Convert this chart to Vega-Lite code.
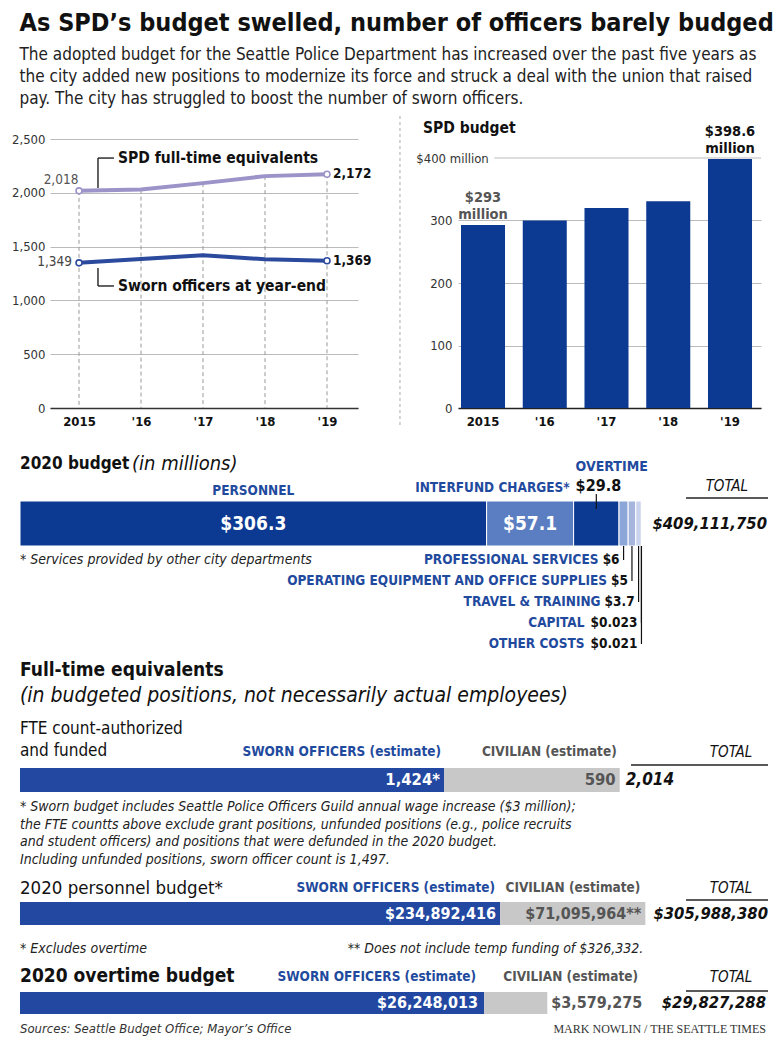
{
  "$schema": "https://vega.github.io/schema/vega-lite/v6.json",
  "background": "white",
  "padding": {"left": 11, "top": 10, "right": 0, "bottom": 0},
  "config": {
    "font": "Liberation Sans Narrow, DejaVu Sans Condensed, Roboto Condensed, Arial Narrow, sans-serif",
    "view": {"stroke": null}
  },
  "title": {
    "text": "As SPD’s budget swelled, number of officers barely budged",
    "subtitle": [
      "The adopted budget for the Seattle Police Department has increased over the past five years as",
      "the city added new positions to modernize its force and struck a deal with the union that raised",
      "pay. The city has struggled to boost the number of sworn officers."
    ],
    "anchor": "start",
    "dx": 8,
    "fontSize": 25,
    "fontWeight": "bold",
    "color": "#111",
    "subtitleFontSize": 17,
    "subtitleColor": "#222",
    "subtitleLineHeight": 22,
    "subtitlePadding": 11,
    "offset": 8
  },
  "spacing": 26,
  "resolve": {"scale": {"color": "independent", "stroke": "independent"}},
  "vconcat": [
    {
      "hconcat": [
        {
          "width": 1,
          "height": 1,
          "data": {"values": [{}]},
          "mark": {"type": "point", "opacity": 0},
          "encoding": {}
        },
        {
          "hconcat": [
            {
              "width": 308,
              "height": 269,
              "data": {"values": [
                {"year": 2015, "series": "FTE", "name": "SPD full-time equivalents", "value": 2018},
                {"year": 2016, "series": "FTE", "name": "SPD full-time equivalents", "value": 2030},
                {"year": 2017, "series": "FTE", "name": "SPD full-time equivalents", "value": 2090},
                {"year": 2018, "series": "FTE", "name": "SPD full-time equivalents", "value": 2155},
                {"year": 2019, "series": "FTE", "name": "SPD full-time equivalents", "value": 2172},
                {"year": 2015, "series": "Sworn", "name": "Sworn officers at year-end", "value": 1349},
                {"year": 2016, "series": "Sworn", "name": "Sworn officers at year-end", "value": 1385},
                {"year": 2017, "series": "Sworn", "name": "Sworn officers at year-end", "value": 1420},
                {"year": 2018, "series": "Sworn", "name": "Sworn officers at year-end", "value": 1382},
                {"year": 2019, "series": "Sworn", "name": "Sworn officers at year-end", "value": 1369}
              ]},
              "layer": [
                {
                  "transform": [{"filter": "datum.series == 'FTE'"}],
                  "mark": {"type": "rule", "strokeDash": [4, 3], "color": "#999", "strokeWidth": 1},
                  "encoding": {
                    "x": {"field": "year", "type": "quantitative"},
                    "y": {"field": "value", "type": "quantitative"},
                    "y2": {"datum": 0}
                  }
                },
                {
                  "data": {"values": [{}]},
                  "mark": {"type": "rule", "strokeDash": [3, 3], "color": "#aaa", "strokeWidth": 1},
                  "encoding": {
                    "x": {"datum": 2020.177, "type": "quantitative"},
                    "y": {"datum": -158, "type": "quantitative"},
                    "y2": {"datum": 2723}
                  }
                },
                {
                  "data": {"values": [{}]},
                  "mark": {"type": "rule", "color": "#111", "strokeWidth": 1.3},
                  "encoding": {"x": {"datum": 2015.306, "type": "quantitative"}, "y": {"datum": 2045, "type": "quantitative"}, "y2": {"datum": 2323}}
                },
                {
                  "data": {"values": [{}]},
                  "mark": {"type": "rule", "color": "#111", "strokeWidth": 1.3},
                  "encoding": {"x": {"datum": 2015.306, "type": "quantitative"}, "x2": {"datum": 2015.564}, "y": {"datum": 2323, "type": "quantitative"}}
                },
                {
                  "data": {"values": [{}]},
                  "mark": {"type": "rule", "color": "#111", "strokeWidth": 1.3},
                  "encoding": {"x": {"datum": 2015.306, "type": "quantitative"}, "y": {"datum": 1301, "type": "quantitative"}, "y2": {"datum": 1134}}
                },
                {
                  "data": {"values": [{}]},
                  "mark": {"type": "rule", "color": "#111", "strokeWidth": 1.3},
                  "encoding": {"x": {"datum": 2015.306, "type": "quantitative"}, "x2": {"datum": 2015.564}, "y": {"datum": 1134, "type": "quantitative"}}
                },
                {
                  "mark": {"type": "line", "strokeWidth": 4},
                  "encoding": {
                    "x": {
                      "field": "year", "type": "quantitative",
                      "scale": {"domain": [2014.532, 2019.5], "nice": false, "zero": false},
                      "axis": {"values": [2015, 2016, 2017, 2018, 2019], "labelExpr": "datum.value == 2015 ? '2015' : \"'\" + (datum.value - 2000)", "title": null, "grid": false, "ticks": false, "domain": true, "domainColor": "#333", "domainWidth": 1.5, "labelFontSize": 13, "labelFontWeight": "bold", "labelColor": "#111", "labelPadding": 7}
                    },
                    "y": {
                      "field": "value", "type": "quantitative",
                      "scale": {"domain": [0, 2500], "nice": false},
                      "axis": {"values": [0, 500, 1000, 1500, 2000, 2500], "labelExpr": "format(datum.value, ',')", "title": null, "grid": true, "gridColor": "#bbb", "gridWidth": 1.2, "ticks": false, "domain": false, "labelFontSize": 13, "labelColor": "#333", "labelPadding": 5}
                    },
                    "color": {"field": "series", "type": "nominal", "scale": {"domain": ["FTE", "Sworn"], "range": ["#9c93c8", "#2c4a9d"]}, "legend": null}
                  }
                },
                {
                  "transform": [{"filter": "datum.year == 2015 || datum.year == 2019"}],
                  "mark": {"type": "point", "filled": true, "fill": "white", "size": 36, "strokeWidth": 1.6, "opacity": 1},
                  "encoding": {
                    "x": {"field": "year", "type": "quantitative"},
                    "y": {"field": "value", "type": "quantitative"},
                    "stroke": {"field": "series", "type": "nominal", "scale": {"domain": ["FTE", "Sworn"], "range": ["#9c93c8", "#2c4a9d"]}, "legend": null}
                  }
                },
                {
                  "transform": [{"filter": "datum.year == 2015 && datum.series == 'FTE'"}],
                  "mark": {"type": "text", "align": "left", "baseline": "middle", "dx": 39, "dy": -33, "fontSize": 15.5, "fontWeight": "bold", "color": "#111"},
                  "encoding": {"x": {"field": "year", "type": "quantitative"}, "y": {"field": "value", "type": "quantitative"}, "text": {"field": "name"}}
                },
                {
                  "transform": [{"filter": "datum.year == 2015 && datum.series == 'Sworn'"}],
                  "mark": {"type": "text", "align": "left", "baseline": "middle", "dx": 39, "dy": 23, "fontSize": 15.5, "fontWeight": "bold", "color": "#111"},
                  "encoding": {"x": {"field": "year", "type": "quantitative"}, "y": {"field": "value", "type": "quantitative"}, "text": {"field": "name"}}
                },
                {
                  "transform": [{"filter": "datum.year == 2015 && datum.series == 'FTE'"}],
                  "mark": {"type": "text", "align": "center", "baseline": "middle", "dx": -18, "dy": -11, "fontSize": 13.5, "color": "#555"},
                  "encoding": {"x": {"field": "year", "type": "quantitative"}, "y": {"field": "value", "type": "quantitative"}, "text": {"field": "value", "format": ","}}
                },
                {
                  "transform": [{"filter": "datum.year == 2015 && datum.series == 'Sworn'"}],
                  "mark": {"type": "text", "align": "right", "baseline": "middle", "dx": -7, "dy": -1, "fontSize": 13.5, "color": "#444"},
                  "encoding": {"x": {"field": "year", "type": "quantitative"}, "y": {"field": "value", "type": "quantitative"}, "text": {"field": "value", "format": ","}}
                },
                {
                  "transform": [{"filter": "datum.year == 2019"}],
                  "mark": {"type": "text", "align": "left", "baseline": "middle", "dx": 6, "fontSize": 13.5, "fontWeight": "bold", "color": "#111"},
                  "encoding": {"x": {"field": "year", "type": "quantitative"}, "y": {"field": "value", "type": "quantitative"}, "text": {"field": "value", "format": ","}}
                }
              ]
            },
            {
              "width": 303,
              "height": 269,
              "resolve": {"scale": {"x": "independent"}},
              "layer": [
                {
                  "data": {"values": [
                    {"year": "2015", "budget": 293, "note": "$293\nmillion"},
                    {"year": "2016", "budget": 300},
                    {"year": "2017", "budget": 320},
                    {"year": "2018", "budget": 331},
                    {"year": "2019", "budget": 398.6, "note": "$398.6\nmillion"}
                  ]},
                  "layer": [
                    {
                      "mark": {"type": "bar", "color": "#0c3a92"},
                      "encoding": {
                        "x": {
                          "field": "year", "type": "ordinal",
                          "scale": {"paddingInner": 0.287, "paddingOuter": 0.097, "align": 0.25},
                          "axis": {"labelExpr": "datum.value == '2015' ? '2015' : \"'\" + slice(datum.value, 2)", "title": null, "ticks": false, "domain": true, "domainColor": "#222", "domainWidth": 1.5, "labelAngle": 0, "labelFontSize": 13, "labelFontWeight": "bold", "labelColor": "#111", "labelPadding": 7}
                        },
                        "y": {
                          "field": "budget", "type": "quantitative",
                          "scale": {"domain": [0, 430.4], "nice": false},
                          "axis": {"values": [0, 50, 100, 150, 200, 250, 300, 350, 400], "labelExpr": "datum.value == 400 ? '$400 million' : datum.label", "labelAlign": {"condition": {"test": "datum.value == 400", "value": "center"}, "value": "right"}, "title": null, "grid": true, "gridColor": {"condition": {"test": "datum.value == 400", "value": "transparent"}, "value": "#bbb"}, "gridWidth": 1.2, "ticks": false, "domain": false, "labelFontSize": 13, "labelColor": "#333", "labelPadding": 6}
                        }
                      }
                    },
                    {
                      "transform": [{"filter": "isValid(datum.note)"}],
                      "mark": {"type": "text", "baseline": "bottom", "dy": -20, "fontWeight": "bold", "fontSize": 14.5, "lineBreak": "\n", "lineHeight": 17},
                      "encoding": {
                        "x": {"field": "year", "type": "ordinal"},
                        "y": {"field": "budget", "type": "quantitative"},
                        "text": {"field": "note"},
                        "color": {"condition": {"test": "datum.year == '2019'", "value": "#111"}, "value": "#555"}
                      }
                    },
                    {
                      "data": {"values": [{"t": "SPD budget"}]},
                      "mark": {"type": "text", "align": "left", "baseline": "middle", "dx": -60, "fontSize": 15.5, "fontWeight": "bold", "color": "#111"},
                      "encoding": {
                        "x": {"datum": "2015", "type": "ordinal"},
                        "y": {"datum": 448, "type": "quantitative"},
                        "text": {"field": "t"}
                      }
                    }
                  ]
                },
                {
                  "data": {"values": [{}]},
                  "mark": {"type": "rule", "color": "#bbb", "strokeWidth": 1.2},
                  "encoding": {
                    "x": {"datum": 0.12, "type": "quantitative", "scale": {"domain": [0, 1], "nice": false}, "axis": null},
                    "x2": {"datum": 1},
                    "y": {"datum": 400, "type": "quantitative"}
                  }
                }
              ]
            }
          ],
          "spacing": 100,
          "bounds": "flush",
          "resolve": {"scale": {"color": "independent", "stroke": "independent"}}
        }
      ],
      "spacing": 29,
      "bounds": "flush"
    },
    {
      "spacing": 10,
      "resolve": {"scale": {"color": "independent"}},
      "vconcat": [
        {
          "width": 748,
          "height": 45,
          "data": {"values": [
            {"cat": "PERSONNEL", "amount": 306.3, "order": 1, "inside": "$306.3"},
            {"cat": "INTERFUND CHARGES*", "amount": 57.1, "order": 2, "inside": "$57.1"},
            {"cat": "OVERTIME", "amount": 29.8, "order": 3, "value": "$29.8"},
            {"cat": "PROFESSIONAL SERVICES", "amount": 6, "order": 4, "value": "$6"},
            {"cat": "OPERATING EQUIPMENT AND OFFICE SUPPLIES", "amount": 5, "order": 5, "value": "$5"},
            {"cat": "TRAVEL & TRAINING", "amount": 3.7, "order": 6, "value": "$3.7"},
            {"cat": "CAPITAL", "amount": 0.023, "order": 7, "value": "$0.023"},
            {"cat": "OTHER COSTS", "amount": 0.021, "order": 8, "value": "$0.021"}
          ]},
          "layer": [
            {
              "transform": [{"stack": "amount", "groupby": [], "sort": [{"field": "order"}], "as": ["x0", "x1"]}],
              "mark": {"type": "bar", "stroke": "white", "strokeWidth": 1},
              "encoding": {
                "x": {"field": "x0", "type": "quantitative", "scale": {"domain": [0, 491], "nice": false, "zero": false}, "axis": null},
                "x2": {"field": "x1"},
                "y": {"datum": 1.19, "type": "quantitative", "scale": {"domain": [1.19, 3.333], "nice": false, "zero": false, "reverse": true}, "axis": null},
                "y2": {"datum": 3.333},
                "color": {"field": "cat", "type": "nominal", "scale": {"domain": ["PERSONNEL", "INTERFUND CHARGES*", "OVERTIME", "PROFESSIONAL SERVICES", "OPERATING EQUIPMENT AND OFFICE SUPPLIES", "TRAVEL & TRAINING", "CAPITAL", "OTHER COSTS"], "range": ["#0c3a92", "#5a7ec1", "#0c3a92", "#8ca6d8", "#a6b5de", "#c9d3ee", "#dde3f3", "#dde3f3"]}, "legend": null}
              }
            },
            {
              "transform": [
                {"stack": "amount", "groupby": [], "sort": [{"field": "order"}], "as": ["x0", "x1"]},
                {"filter": "isValid(datum.inside)"},
                {"fold": ["x0", "x1"], "as": ["edge", "pos"]},
                {"aggregate": [{"op": "mean", "field": "pos", "as": "mid"}], "groupby": ["cat", "inside"]}
              ],
              "mark": {"type": "text", "baseline": "middle", "align": "center", "fontSize": 19, "fontWeight": "bold", "color": "white"},
              "encoding": {"x": {"field": "mid", "type": "quantitative"}, "y": {"datum": 2.262, "type": "quantitative"}, "text": {"field": "inside"}}
            },
            {
              "transform": [
                {"stack": "amount", "groupby": [], "sort": [{"field": "order"}], "as": ["x0", "x1"]},
                {"filter": "datum.order == 1"},
                {"fold": ["x0", "x1"], "as": ["edge", "pos"]},
                {"aggregate": [{"op": "mean", "field": "pos", "as": "mid"}], "groupby": ["cat"]}
              ],
              "mark": {"type": "text", "baseline": "middle", "align": "center", "fontSize": 13.5, "fontWeight": "bold", "color": "#1f4a9e"},
              "encoding": {"x": {"field": "mid", "type": "quantitative"}, "y": {"datum": 0.714, "type": "quantitative"}, "text": {"field": "cat"}}
            },
            {
              "transform": [
                {"stack": "amount", "groupby": [], "sort": [{"field": "order"}], "as": ["x0", "x1"]},
                {"filter": "datum.order == 2"}
              ],
              "mark": {"type": "text", "baseline": "middle", "align": "right", "dx": -4, "fontSize": 13.5, "fontWeight": "bold", "color": "#1f4a9e"},
              "encoding": {"x": {"field": "x1", "type": "quantitative"}, "y": {"datum": 0.571, "type": "quantitative"}, "text": {"field": "cat"}}
            },
            {
              "transform": [
                {"stack": "amount", "groupby": [], "sort": [{"field": "order"}], "as": ["x0", "x1"]},
                {"filter": "datum.order == 3"}
              ],
              "mark": {"type": "text", "baseline": "middle", "align": "left", "dx": 2, "fontSize": 14, "fontWeight": "bold", "color": "#1f4a9e"},
              "encoding": {"x": {"field": "x0", "type": "quantitative"}, "y": {"datum": -0.429, "type": "quantitative"}, "text": {"field": "cat"}}
            },
            {
              "transform": [
                {"stack": "amount", "groupby": [], "sort": [{"field": "order"}], "as": ["x0", "x1"]},
                {"filter": "datum.order == 3"}
              ],
              "mark": {"type": "text", "baseline": "middle", "align": "left", "dx": 2, "fontSize": 16, "fontWeight": "bold", "color": "#111"},
              "encoding": {"x": {"field": "x0", "type": "quantitative"}, "y": {"datum": 0.476, "type": "quantitative"}, "text": {"field": "value"}}
            },
            {
              "transform": [
                {"stack": "amount", "groupby": [], "sort": [{"field": "order"}], "as": ["x0", "x1"]},
                {"filter": "datum.order == 3"},
                {"fold": ["x0", "x1"], "as": ["edge", "pos"]},
                {"aggregate": [{"op": "mean", "field": "pos", "as": "mid"}], "groupby": ["cat"]}
              ],
              "mark": {"type": "rule", "color": "#111", "strokeWidth": 1.2},
              "encoding": {"x": {"field": "mid", "type": "quantitative"}, "y": {"datum": 0.857, "type": "quantitative"}, "y2": {"datum": 1.571}}
            },
            {
              "transform": [
                {"stack": "amount", "groupby": [], "sort": [{"field": "order"}], "as": ["x0", "x1"]},
                {"filter": "datum.order >= 4"},
                {"fold": ["x0", "x1"], "as": ["edge", "pos"]},
                {"aggregate": [{"op": "mean", "field": "pos", "as": "mid"}], "groupby": ["cat", "order", "value"]}
              ],
              "mark": {"type": "rule", "color": "#111", "strokeWidth": 1.2},
              "encoding": {"x": {"field": "mid", "type": "quantitative"}, "y": {"field": "order", "type": "quantitative"}, "y2": {"datum": 3.333}}
            },
            {
              "transform": [
                {"stack": "amount", "groupby": [], "sort": [{"field": "order"}], "as": ["x0", "x1"]},
                {"filter": "datum.order >= 4"},
                {"fold": ["x0", "x1"], "as": ["edge", "pos"]},
                {"aggregate": [{"op": "mean", "field": "pos", "as": "mid"}], "groupby": ["cat", "order", "value"]}
              ],
              "mark": {"type": "text", "baseline": "middle", "align": "right", "dx": -4, "fontSize": 13.5, "fontWeight": "bold", "color": "#111"},
              "encoding": {"x": {"field": "mid", "type": "quantitative"}, "y": {"field": "order", "type": "quantitative"}, "text": {"field": "value"}}
            },
            {
              "transform": [
                {"stack": "amount", "groupby": [], "sort": [{"field": "order"}], "as": ["x0", "x1"]},
                {"filter": "datum.order == 4 || datum.order == 5"},
                {"fold": ["x0", "x1"], "as": ["edge", "pos"]},
                {"aggregate": [{"op": "mean", "field": "pos", "as": "mid"}], "groupby": ["cat", "order"]}
              ],
              "mark": {"type": "text", "baseline": "middle", "align": "right", "dx": -25, "fontSize": 13.5, "fontWeight": "bold", "color": "#1f4a9e"},
              "encoding": {"x": {"field": "mid", "type": "quantitative"}, "y": {"field": "order", "type": "quantitative"}, "text": {"field": "cat"}}
            },
            {
              "transform": [
                {"stack": "amount", "groupby": [], "sort": [{"field": "order"}], "as": ["x0", "x1"]},
                {"filter": "datum.order == 6"},
                {"fold": ["x0", "x1"], "as": ["edge", "pos"]},
                {"aggregate": [{"op": "mean", "field": "pos", "as": "mid"}], "groupby": ["cat", "order"]}
              ],
              "mark": {"type": "text", "baseline": "middle", "align": "right", "dx": -38, "fontSize": 13.5, "fontWeight": "bold", "color": "#1f4a9e"},
              "encoding": {"x": {"field": "mid", "type": "quantitative"}, "y": {"field": "order", "type": "quantitative"}, "text": {"field": "cat"}}
            },
            {
              "transform": [
                {"stack": "amount", "groupby": [], "sort": [{"field": "order"}], "as": ["x0", "x1"]},
                {"filter": "datum.order >= 7"},
                {"fold": ["x0", "x1"], "as": ["edge", "pos"]},
                {"aggregate": [{"op": "mean", "field": "pos", "as": "mid"}], "groupby": ["cat", "order"]}
              ],
              "mark": {"type": "text", "baseline": "middle", "align": "right", "dx": -57, "fontSize": 13.5, "fontWeight": "bold", "color": "#1f4a9e"},
              "encoding": {"x": {"field": "mid", "type": "quantitative"}, "y": {"field": "order", "type": "quantitative"}, "text": {"field": "cat"}}
            },
            {
              "data": {"values": [{"t": "* Services provided by other city departments"}]},
              "mark": {"type": "text", "baseline": "middle", "align": "left", "fontSize": 14, "fontStyle": "italic", "color": "#222"},
              "encoding": {"x": {"datum": 0, "type": "quantitative"}, "y": {"datum": 4.0, "type": "quantitative"}, "text": {"field": "t"}}
            },
            {
              "data": {"values": [{"t": "2020 budget"}]},
              "mark": {"type": "text", "baseline": "middle", "align": "left", "fontSize": 17, "fontWeight": "bold", "color": "#111"},
              "encoding": {"x": {"datum": 0, "type": "quantitative"}, "y": {"datum": -0.572, "type": "quantitative"}, "text": {"field": "t"}}
            },
            {
              "data": {"values": [{"t": "(in millions)"}]},
              "mark": {"type": "text", "baseline": "middle", "align": "left", "dx": 112, "fontSize": 20, "fontStyle": "italic", "color": "#111"},
              "encoding": {"x": {"datum": 0, "type": "quantitative"}, "y": {"datum": -0.572, "type": "quantitative"}, "text": {"field": "t"}}
            },
            {
              "data": {"values": [{"t": "TOTAL"}]},
              "mark": {"type": "text", "baseline": "middle", "align": "center", "fontSize": 15, "fontStyle": "italic", "color": "#111"},
              "encoding": {"x": {"datum": 464, "type": "quantitative"}, "y": {"datum": 0.476, "type": "quantitative"}, "text": {"field": "t"}}
            },
            {
              "data": {"values": [{}]},
              "mark": {"type": "rule", "color": "#222", "strokeWidth": 1.5},
              "encoding": {"x": {"datum": 437.2, "type": "quantitative"}, "x2": {"datum": 491}, "y": {"datum": 1.048, "type": "quantitative"}}
            },
            {
              "data": {"values": [{"t": "$409,111,750"}]},
              "mark": {"type": "text", "baseline": "middle", "align": "right", "dx": -1, "fontSize": 16.5, "fontWeight": "bold", "fontStyle": "italic", "color": "#111"},
              "encoding": {"x": {"datum": 491, "type": "quantitative"}, "y": {"datum": 2.262, "type": "quantitative"}, "text": {"field": "t"}}
            }
          ]
        },
        {
          "width": 748,
          "height": 24,
          "data": {"values": [
            {"grp": "SWORN OFFICERS (estimate)", "n": 1424, "label": "1,424*", "order": 1},
            {"grp": "CIVILIAN (estimate)", "n": 590, "label": "590", "order": 2}
          ]},
          "layer": [
            {
              "transform": [{"stack": "n", "groupby": [], "sort": [{"field": "order"}], "as": ["x0", "x1"]}],
              "mark": {"type": "bar"},
              "encoding": {
                "x": {"field": "x0", "type": "quantitative", "scale": {"domain": [0, 2512], "nice": false, "zero": false}, "axis": null},
                "x2": {"field": "x1"},
                "y": {"datum": 0, "type": "quantitative", "scale": {"domain": [0, 1], "nice": false}, "axis": null},
                "y2": {"datum": 1},
                "color": {"field": "grp", "type": "nominal", "scale": {"domain": ["SWORN OFFICERS (estimate)", "CIVILIAN (estimate)"], "range": ["#2348a2", "#c8c8c8"]}, "legend": null}
              }
            },
            {
              "transform": [{"stack": "n", "groupby": [], "sort": [{"field": "order"}], "as": ["x0", "x1"]}],
              "mark": {"type": "text", "baseline": "middle", "align": "right", "dx": -4, "fontSize": 16.5, "fontWeight": "bold"},
              "encoding": {
                "x": {"field": "x1", "type": "quantitative"},
                "y": {"datum": 0.5, "type": "quantitative"},
                "text": {"field": "label"},
                "color": {"condition": {"test": "datum.order == 1", "value": "white"}, "value": "#555"}
              }
            },
            {
              "transform": [{"stack": "n", "groupby": [], "sort": [{"field": "order"}], "as": ["x0", "x1"]}],
              "mark": {"type": "text", "baseline": "middle", "align": "right", "dx": -3, "fontSize": 13.5, "fontWeight": "bold"},
              "encoding": {
                "x": {"field": "x1", "type": "quantitative"},
                "y": {"datum": 1.667, "type": "quantitative"},
                "text": {"field": "grp"},
                "color": {"condition": {"test": "datum.order == 1", "value": "#1f4a9e"}, "value": "#555"}
              }
            },
            {
              "data": {"values": [{"total": 2014, "label": "2,014"}]},
              "mark": {"type": "text", "baseline": "middle", "align": "left", "dx": 6, "fontSize": 17, "fontWeight": "bold", "fontStyle": "italic", "color": "#111"},
              "encoding": {"x": {"field": "total", "type": "quantitative"}, "y": {"datum": 0.5, "type": "quantitative"}, "text": {"field": "label"}}
            },
            {
              "data": {"values": [{"t": "TOTAL"}]},
              "mark": {"type": "text", "baseline": "middle", "align": "center", "fontSize": 15, "fontStyle": "italic", "color": "#111"},
              "encoding": {"x": {"datum": 2388, "type": "quantitative"}, "y": {"datum": 1.667, "type": "quantitative"}, "text": {"field": "t"}}
            },
            {
              "data": {"values": [{}]},
              "mark": {"type": "rule", "color": "#222", "strokeWidth": 1.5},
              "encoding": {"x": {"datum": 2052, "type": "quantitative"}, "x2": {"datum": 2512}, "y": {"datum": 1.125, "type": "quantitative"}}
            },
            {
              "data": {"values": [{"t": "Full-time equivalents"}]},
              "mark": {"type": "text", "baseline": "middle", "align": "left", "fontSize": 19, "fontWeight": "bold", "color": "#111"},
              "encoding": {"x": {"datum": 0, "type": "quantitative"}, "y": {"datum": 5.083, "type": "quantitative"}, "text": {"field": "t"}}
            },
            {
              "data": {"values": [{"t": "(in budgeted positions, not necessarily actual employees)"}]},
              "mark": {"type": "text", "baseline": "middle", "align": "left", "fontSize": 21, "fontStyle": "italic", "color": "#111"},
              "encoding": {"x": {"datum": 0, "type": "quantitative"}, "y": {"datum": 4.0, "type": "quantitative"}, "text": {"field": "t"}}
            },
            {
              "data": {"values": [{"t": "FTE count-authorized\nand funded"}]},
              "mark": {"type": "text", "baseline": "middle", "align": "left", "fontSize": 17, "color": "#111", "lineBreak": "\n", "lineHeight": 22},
              "encoding": {"x": {"datum": 0, "type": "quantitative"}, "y": {"datum": 2.625, "type": "quantitative"}, "text": {"field": "t"}}
            },
            {
              "data": {"values": [{"t": "* Sworn budget includes Seattle Police Officers Guild annual wage increase ($3 million);\nthe FTE countts above exclude grant positions, unfunded positions (e.g., police recruits\nand student officers) and positions that were defunded in the 2020 budget.\nIncluding unfunded positions, sworn officer count is 1,497."}]},
              "mark": {"type": "text", "baseline": "middle", "align": "left", "fontSize": 14, "fontStyle": "italic", "color": "#222", "lineBreak": "\n", "lineHeight": 17.7},
              "encoding": {"x": {"datum": 0, "type": "quantitative"}, "y": {"datum": -0.625, "type": "quantitative"}, "text": {"field": "t"}}
            }
          ]
        },
        {
          "width": 748,
          "height": 23,
          "data": {"values": [
            {"grp": "SWORN OFFICERS (estimate)", "amt": 234892416, "label": "$234,892,416", "order": 1},
            {"grp": "CIVILIAN (estimate)", "amt": 71095964, "label": "$71,095,964**", "order": 2}
          ]},
          "layer": [
            {
              "transform": [{"stack": "amt", "groupby": [], "sort": [{"field": "order"}], "as": ["x0", "x1"]}],
              "mark": {"type": "bar"},
              "encoding": {
                "x": {"field": "x0", "type": "quantitative", "scale": {"domain": [0, 366000000], "nice": false, "zero": false}, "axis": null},
                "x2": {"field": "x1"},
                "y": {"datum": 0, "type": "quantitative", "scale": {"domain": [0, 1], "nice": false}, "axis": null},
                "y2": {"datum": 1},
                "color": {"field": "grp", "type": "nominal", "scale": {"domain": ["SWORN OFFICERS (estimate)", "CIVILIAN (estimate)"], "range": ["#2348a2", "#c8c8c8"]}, "legend": null}
              }
            },
            {
              "transform": [{"stack": "amt", "groupby": [], "sort": [{"field": "order"}], "as": ["x0", "x1"]}],
              "mark": {"type": "text", "baseline": "middle", "align": "right", "dx": -4, "fontSize": 16, "fontWeight": "bold"},
              "encoding": {
                "x": {"field": "x1", "type": "quantitative"},
                "y": {"datum": 0.5, "type": "quantitative"},
                "text": {"field": "label"},
                "color": {"condition": {"test": "datum.order == 1", "value": "white"}, "value": "#555"}
              }
            },
            {
              "transform": [{"stack": "amt", "groupby": [], "sort": [{"field": "order"}], "as": ["x0", "x1"]}],
              "mark": {"type": "text", "baseline": "middle", "align": "right", "dx": -5, "fontSize": 13.5, "fontWeight": "bold"},
              "encoding": {
                "x": {"field": "x1", "type": "quantitative"},
                "y": {"datum": 1.609, "type": "quantitative"},
                "text": {"field": "grp"},
                "color": {"condition": {"test": "datum.order == 1", "value": "#1f4a9e"}, "value": "#555"}
              }
            },
            {
              "data": {"values": [{"t": "$305,988,380"}]},
              "mark": {"type": "text", "baseline": "middle", "align": "right", "fontSize": 16.5, "fontWeight": "bold", "fontStyle": "italic", "color": "#111"},
              "encoding": {"x": {"datum": 366000000, "type": "quantitative"}, "y": {"datum": 0.5, "type": "quantitative"}, "text": {"field": "t"}}
            },
            {
              "data": {"values": [{"t": "TOTAL"}]},
              "mark": {"type": "text", "baseline": "middle", "align": "center", "fontSize": 15, "fontStyle": "italic", "color": "#111"},
              "encoding": {"x": {"datum": 347900000, "type": "quantitative"}, "y": {"datum": 1.609, "type": "quantitative"}, "text": {"field": "t"}}
            },
            {
              "data": {"values": [{}]},
              "mark": {"type": "rule", "color": "#222", "strokeWidth": 1.5},
              "encoding": {"x": {"datum": 325900000, "type": "quantitative"}, "x2": {"datum": 366000000}, "y": {"datum": 1.087, "type": "quantitative"}}
            },
            {
              "data": {"values": [{"t": "2020 personnel budget*"}]},
              "mark": {"type": "text", "baseline": "middle", "align": "left", "fontSize": 18.5, "color": "#111"},
              "encoding": {"x": {"datum": 0, "type": "quantitative"}, "y": {"datum": 1.609, "type": "quantitative"}, "text": {"field": "t"}}
            },
            {
              "data": {"values": [{"t": "* Excludes overtime"}]},
              "mark": {"type": "text", "baseline": "middle", "align": "left", "fontSize": 14, "fontStyle": "italic", "color": "#222"},
              "encoding": {"x": {"datum": 0, "type": "quantitative"}, "y": {"datum": -1.05, "type": "quantitative"}, "text": {"field": "t"}}
            },
            {
              "data": {"values": [{"t": "** Does not include temp funding of $326,332."}]},
              "mark": {"type": "text", "baseline": "middle", "align": "right", "dx": -2, "fontSize": 14, "fontStyle": "italic", "color": "#222"},
              "encoding": {"x": {"datum": 305988380, "type": "quantitative"}, "y": {"datum": -1.05, "type": "quantitative"}, "text": {"field": "t"}}
            }
          ]
        },
        {
          "width": 748,
          "height": 22,
          "data": {"values": [
            {"grp": "SWORN OFFICERS (estimate)", "amt": 26248013, "label": "$26,248,013", "order": 1},
            {"grp": "CIVILIAN (estimate)", "amt": 3579275, "label": "$3,579,275", "order": 2}
          ]},
          "layer": [
            {
              "transform": [{"stack": "amt", "groupby": [], "sort": [{"field": "order"}], "as": ["x0", "x1"]}],
              "mark": {"type": "bar"},
              "encoding": {
                "x": {"field": "x0", "type": "quantitative", "scale": {"domain": [0, 42310000], "nice": false, "zero": false}, "axis": null},
                "x2": {"field": "x1"},
                "y": {"datum": 0, "type": "quantitative", "scale": {"domain": [0, 1], "nice": false}, "axis": null},
                "y2": {"datum": 1},
                "color": {"field": "grp", "type": "nominal", "scale": {"domain": ["SWORN OFFICERS (estimate)", "CIVILIAN (estimate)"], "range": ["#2348a2", "#c8c8c8"]}, "legend": null}
              }
            },
            {
              "transform": [{"stack": "amt", "groupby": [], "sort": [{"field": "order"}], "as": ["x0", "x1"]}, {"filter": "datum.order == 1"}],
              "mark": {"type": "text", "baseline": "middle", "align": "right", "dx": -6, "fontSize": 16, "fontWeight": "bold", "color": "white"},
              "encoding": {"x": {"field": "x1", "type": "quantitative"}, "y": {"datum": 0.5, "type": "quantitative"}, "text": {"field": "label"}}
            },
            {
              "transform": [{"stack": "amt", "groupby": [], "sort": [{"field": "order"}], "as": ["x0", "x1"]}, {"filter": "datum.order == 2"}],
              "mark": {"type": "text", "baseline": "middle", "align": "left", "dx": 4, "fontSize": 16, "fontWeight": "bold", "color": "#555"},
              "encoding": {"x": {"field": "x1", "type": "quantitative"}, "y": {"datum": 0.5, "type": "quantitative"}, "text": {"field": "label"}}
            },
            {
              "transform": [{"stack": "amt", "groupby": [], "sort": [{"field": "order"}], "as": ["x0", "x1"]}, {"filter": "datum.order == 1"}],
              "mark": {"type": "text", "baseline": "middle", "align": "right", "dx": -8, "fontSize": 13.5, "fontWeight": "bold", "color": "#1f4a9e"},
              "encoding": {"x": {"field": "x1", "type": "quantitative"}, "y": {"datum": 1.682, "type": "quantitative"}, "text": {"field": "grp"}}
            },
            {
              "transform": [{"filter": "datum.order == 2"}],
              "mark": {"type": "text", "baseline": "middle", "align": "right", "fontSize": 13.5, "fontWeight": "bold", "color": "#555"},
              "encoding": {"x": {"datum": 34960000, "type": "quantitative"}, "y": {"datum": 1.682, "type": "quantitative"}, "text": {"field": "grp"}}
            },
            {
              "data": {"values": [{"t": "$29,827,288"}]},
              "mark": {"type": "text", "baseline": "middle", "align": "right", "dx": -2, "fontSize": 16.5, "fontWeight": "bold", "fontStyle": "italic", "color": "#111"},
              "encoding": {"x": {"datum": 42310000, "type": "quantitative"}, "y": {"datum": 0.5, "type": "quantitative"}, "text": {"field": "t"}}
            },
            {
              "data": {"values": [{"t": "TOTAL"}]},
              "mark": {"type": "text", "baseline": "middle", "align": "center", "fontSize": 15, "fontStyle": "italic", "color": "#111"},
              "encoding": {"x": {"datum": 40220000, "type": "quantitative"}, "y": {"datum": 1.682, "type": "quantitative"}, "text": {"field": "t"}}
            },
            {
              "data": {"values": [{}]},
              "mark": {"type": "rule", "color": "#222", "strokeWidth": 1.5},
              "encoding": {"x": {"datum": 37670000, "type": "quantitative"}, "x2": {"datum": 42310000}, "y": {"datum": 1.045, "type": "quantitative"}}
            },
            {
              "data": {"values": [{"t": "2020 overtime budget"}]},
              "mark": {"type": "text", "baseline": "middle", "align": "left", "fontSize": 19, "fontWeight": "bold", "color": "#111"},
              "encoding": {"x": {"datum": 0, "type": "quantitative"}, "y": {"datum": 1.727, "type": "quantitative"}, "text": {"field": "t"}}
            },
            {
              "data": {"values": [{"t": "Sources: Seattle Budget Office; Mayor’s Office"}]},
              "mark": {"type": "text", "baseline": "middle", "align": "left", "fontSize": 13, "fontStyle": "italic", "color": "#333"},
              "encoding": {"x": {"datum": 0, "type": "quantitative"}, "y": {"datum": -0.682, "type": "quantitative"}, "text": {"field": "t"}}
            },
            {
              "data": {"values": [{"t": "MARK NOWLIN / THE SEATTLE TIMES"}]},
              "mark": {"type": "text", "baseline": "middle", "align": "right", "dx": -2, "fontSize": 12, "font": "Liberation Serif, DejaVu Serif, serif", "color": "#333"},
              "encoding": {"x": {"datum": 42310000, "type": "quantitative"}, "y": {"datum": -0.682, "type": "quantitative"}, "text": {"field": "t"}}
            }
          ]
        }
      ]
    }
  ]
}
